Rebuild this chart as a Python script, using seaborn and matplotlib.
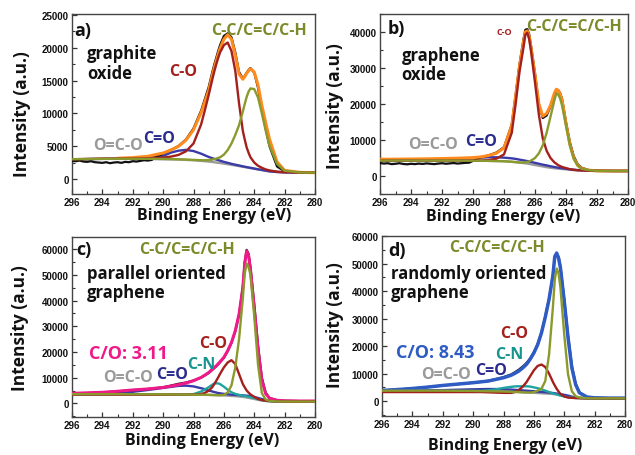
import numpy as np
import pandas as pd
import matplotlib
matplotlib.use("Agg")
import matplotlib.pyplot as plt
import seaborn as sns
from matplotlib.ticker import MultipleLocator

# ---------------- data ----------------
# common binding-energy grid (eV)
G = [296, 295, 294, 293, 292, 291, 290, 289.5, 289, 288.5, 288, 287.5, 287.25, 287,
     286.75, 286.625, 286.5, 286.375, 286.25, 286, 285.75, 285.5, 285.25, 285, 284.75,
     284.625, 284.5, 284.375, 284.25, 284, 283.75, 283.5, 283.25, 283, 282.5, 282, 281, 280]
# finer grid for the noisy raw-data part (296 -> 290.25 eV)
BX_LEFT = [296, 295.75, 295.5, 295.25, 295, 294.75, 294.5, 294.25, 294, 293.75, 293.5, 293.25,
           293, 292.75, 292.5, 292.25, 292, 291.75, 291.5, 291.25, 291, 290.75, 290.5, 290.25]
G_TAIL = G[6:]

# ---- a) graphite oxide ----
a_bg = [2950, 3000, 3050, 3050, 3050, 3050, 3000, 2980, 2950, 2900, 2850, 2750, 2700, 2650, 2580, 2540, 2500,
        2460, 2420, 2330, 2240, 2150, 2050, 1950, 1850, 1800, 1750, 1700, 1650, 1550, 1450, 1350, 1250, 1150,
        1050, 1000, 960, 940]
a_co2 = [2980, 3020, 3060, 3080, 3120, 3250, 3500, 4000, 4300, 4430, 4250, 3850, 3600, 3350, 3150, 3050, 2950,
         2860, 2780, 2600, 2450, 2300, 2170, 2050, 1920, 1860, 1800, 1745, 1690, 1580, 1470, 1370, 1260, 1160,
         1060, 1000, 960, 940]
a_co = [3000, 3050, 3080, 3100, 3100, 3150, 3250, 3400, 3650, 4200, 5400, 8300, 10500, 12800, 15300, 16450, 17500,
        18450, 19300, 20400, 20800, 19500, 16500, 11500, 7300, 6000, 4800, 4000, 3300, 2500, 2000, 1700, 1450, 1300,
        1100, 1020, 970, 950]
a_cc = [3000, 3030, 3060, 3070, 3070, 3070, 3050, 3030, 3000, 2950, 2900, 2850, 2850, 2870, 2950, 3020, 3100,
        3200, 3300, 3700, 4400, 5400, 6700, 8200, 10300, 11450, 12500, 13300, 13800, 13700, 12400, 10000, 7400, 5100,
        2300, 1250, 980, 950]
a_env = [np.nan, np.nan, np.nan, 3150, 3250, 3450, 3950, 4400, 4950, 5900, 7500, 10100, 11800, 13500, 15900, 17000,
         18000, 19000, 19900, 21300, 22000, 21300, 18900, 16000, 15200, 15600, 16100, 16500, 16800, 16300, 14300,
         11200, 8600, 6100, 2600, 1300, 1000, 950]
a_raw_left = [2750, 2700, 2800, 2650, 2600, 2700, 2550, 2500, 2450, 2550, 2400, 2500, 2550, 2450, 2600, 2550,
              2700, 2650, 2750, 2850, 2800, 2900, 3300, 3600]
a_raw_tail = [3850, 4400, 5000, 6000, 7700, 10400, 12200, 14000, 16400, 17500, 18500, 19500, 20400, 21800, 22200,
              21600, 19300, 16300, 15300, 15700, 16200, 16600, 16900, 16200, 13900, 10500, 7700, 5000, 1900, 1150,
              1000, 950]

# ---- b) graphene oxide ----
b_bg = [4300, 4300, 4300, 4300, 4300, 4300, 4250, 4250, 4200, 4150, 4100, 3950, 3850, 3750, 3600, 3530, 3450,
        3350, 3250, 3050, 2850, 2650, 2450, 2300, 2150, 2100, 2050, 2000, 1950, 1850, 1750, 1650, 1600, 1550,
        1450, 1420, 1400, 1400]
b_co2 = [4350, 4380, 4400, 4450, 4550, 4700, 4950, 5100, 5200, 5200, 5100, 4900, 4750, 4550, 4350, 4250, 4150,
         4030, 3900, 3650, 3400, 3150, 2950, 2700, 2500, 2400, 2300, 2220, 2150, 2000, 1850, 1750, 1650, 1600,
         1500, 1450, 1400, 1400]
b_co = [4300, 4300, 4300, 4300, 4300, 4300, 4300, 4300, 4400, 4800, 6000, 12000, 20000, 29000, 35500, 39200,
        39800, 38000, 34500, 26000, 17000, 10500, 7000, 5000, 3800, 3400, 3000, 2750, 2500, 2200, 1900, 1700,
        1600, 1550, 1450, 1420, 1400, 1400]
b_cc = [4300, 4300, 4300, 4300, 4300, 4300, 4250, 4250, 4200, 4150, 4100, 3950, 3850, 3750, 3700, 3800, 3900,
        4050, 4300, 5000, 6300, 8500, 12000, 16500, 21000, 23000, 22600, 21500, 19500, 14000, 8500, 4800, 2900,
        2000, 1600, 1420, 1400, 1400]
b_env = [4650, 4680, 4720, 4770, 4850, 4950, 5100, 5300, 5700, 6300, 7800, 14000, 22000, 30500, 37000, 40000,
         40300, 38800, 35500, 28000, 20000, 16600, 17400, 19600, 23000, 24100, 23800, 22700, 21000, 14500, 8800,
         5000, 3000, 2100, 1600, 1420, 1400, 1400]
b_raw_left = [3600, 3450, 3550, 3300, 3400, 3550, 3350, 3250, 3400, 3300, 3450, 3350, 3500, 3400, 3300, 3450,
              3550, 3400, 3500, 3600, 3450, 3550, 3650, 3700]
b_raw_tail = [4200, 5200, 5700, 6500, 8000, 14300, 22500, 31000, 37800, 40600, 40800, 39400, 36000, 28500, 20000,
              16100, 16800, 19300, 22700, 23600, 23800, 23000, 21300, 15000, 9400, 5500, 3300, 2300, 1600, 1420,
              1400, 1380]

# ---- c) parallel oriented graphene ----
c_bg = [3600, 3600, 3600, 3600, 3550, 3550, 3500, 3480, 3450, 3420, 3400, 3350, 3320, 3300, 3250, 3230, 3200,
        3180, 3150, 3100, 3000, 2900, 2800, 2700, 2500, 2400, 2300, 2150, 2000, 1700, 1400, 1100, 950, 850,
        750, 720, 700, 700]
c_co2 = [3700, 3800, 3900, 4100, 4500, 5200, 6000, 6400, 6800, 6900, 6600, 5900, 5500, 5000, 4600, 4400, 4200,
         4050, 3900, 3700, 3550, 3400, 3300, 3200, 3100, 3050, 3000, 2900, 2800, 2500, 2100, 1700, 1300, 1100,
         850, 750, 700, 700]
c_co = [3400, 3400, 3400, 3400, 3400, 3400, 3400, 3400, 3400, 3400, 3450, 3600, 4100, 4900, 6400, 7600, 8800,
        10100, 11500, 14000, 15900, 16800, 15300, 11400, 7500, 6200, 5000, 4200, 3500, 2500, 1700, 1300, 1050,
        900, 750, 720, 700, 700]
c_cn = [3500, 3500, 3500, 3500, 3500, 3450, 3450, 3450, 3450, 3450, 3600, 4600, 5400, 6300, 7300, 7700, 7800,
        7750, 7500, 6500, 5300, 4300, 3700, 3300, 3000, 2850, 2700, 2550, 2400, 2100, 1700, 1300, 1000, 850,
        750, 720, 700, 700]
c_cc = [3600, 3600, 3600, 3600, 3550, 3550, 3500, 3480, 3450, 3420, 3400, 3350, 3320, 3300, 3250, 3230, 3200,
        3180, 3150, 3300, 4200, 7000, 14000, 25000, 41000, 50500, 54400, 53000, 50000, 34000, 15000, 4000, 1500,
        1000, 750, 720, 700, 700]
c_env = [3900, 4100, 4300, 4700, 5200, 5600, 6200, 6700, 7250, 7900, 8800, 10100, 11000, 12000, 13300, 13950,
         14600, 15400, 16200, 17900, 20500, 23700, 28200, 34700, 45100, 54500, 59300, 57500, 52000, 37000, 21000,
         9000, 3800, 2000, 1200, 1000, 900, 900]
c_raw = [3800, 4000, 4250, 4650, 5150, 5600, 6250, 6900, 7600, 8100, 8900, 10000, 10900, 11800, 13100, 13750,
         14400, 15200, 16000, 17700, 20300, 23500, 28000, 34500, 45300, 55000, 59700, 58200, 53000, 38500, 22500,
         10000, 4200, 2100, 1200, 1000, 900, 900]

# ---- d) randomly oriented graphene ----
d_bg = [3800, 3800, 3800, 3800, 3800, 3750, 3700, 3650, 3600, 3550, 3500, 3400, 3350, 3300, 3200, 3180, 3150,
        3130, 3100, 3050, 2950, 2850, 2800, 2700, 2600, 2550, 2500, 2400, 2300, 2000, 1750, 1500, 1350, 1200,
        1050, 1000, 1000, 1000]
d_co2 = [3700, 3750, 3800, 3900, 4000, 4150, 4300, 4350, 4400, 4400, 4300, 4200, 4100, 4000, 3900, 3850, 3800,
         3750, 3700, 3600, 3450, 3350, 3250, 3100, 2950, 2850, 2750, 2650, 2550, 2300, 2000, 1600, 1400, 1200,
         1050, 1000, 1000, 1000]
d_co = [3300, 3300, 3300, 3300, 3300, 3300, 3300, 3300, 3200, 3100, 3000, 3000, 3300, 4000, 5200, 6000, 6800,
        7900, 9000, 11200, 12800, 13300, 12400, 10000, 7000, 5700, 4500, 3500, 2600, 1700, 1300, 1200, 1100, 1050,
        1000, 1000, 1000, 1000]
d_cn = [3700, 3700, 3700, 3700, 3700, 3700, 3700, 3700, 3900, 4300, 4800, 5200, 5350, 5400, 5400, 5400, 5400,
        5350, 5300, 5000, 4700, 4300, 3800, 3300, 2800, 2600, 2400, 2200, 2000, 1700, 1450, 1300, 1150, 1100,
        1050, 1000, 1000, 1000]
d_cc = [3800, 3800, 3800, 3800, 3800, 3750, 3700, 3650, 3600, 3550, 3500, 3400, 3350, 3300, 3200, 3180, 3150,
        3130, 3100, 3300, 3800, 4500, 7300, 17000, 33900, 44000, 48200, 46500, 41200, 24200, 9700, 3600, 1800,
        1300, 1050, 1000, 1000, 1000]
d_env = [3900, 4200, 4600, 5100, 5700, 6200, 6700, 7000, 7300, 7900, 8500, 9400, 10100, 10900, 12000, 12650,
         13300, 14200, 15200, 17500, 20500, 24800, 30500, 37000, 45500, 52500, 53800, 52000, 48400, 36300, 23000,
         12100, 6000, 3000, 1500, 1200, 1100, 1100]
d_raw = [3900, 4200, 4600, 5100, 5700, 6200, 6700, 7000, 7400, 8000, 8700, 9700, 10500, 11400, 12500, 13100,
         13800, 14600, 15500, 17800, 20800, 25000, 30800, 37300, 45600, 52300, 53500, 52400, 48800, 37000, 23800,
         12800, 6400, 3200, 1500, 1200, 1100, 1100]

# tick labels
X_TICKS = [296, 294, 292, 290, 288, 286, 284, 282, 280]
A_YTICKS = [0, 5000, 10000, 15000, 20000, 25000]
B_YTICKS = [0, 10000, 20000, 30000, 40000]
C_YTICKS = [0, 10000, 20000, 30000, 40000, 50000, 60000]
D_YTICKS = [0, 10000, 20000, 30000, 40000, 50000, 60000]

# ---------------- style ----------------
sns.set_style("white")
plt.rcParams['font.family'] = ['Open Sans', 'DejaVu Sans']

BLACK = "#111111"
ORANGE = "#ff8a1e"
DRED = "#a3201d"
OLIVE = "#8a9a2c"
OLIVE_T = "#7d8a2a"
NAVY = "#3a3aa8"
NAVY_T = "#2b2b8f"
GRAY = "#9a9a9a"
TEAL = "#1fa3a0"
TEAL_T = "#17948f"
MAGENTA = "#f0198a"
BLUE = "#2f5cc4"

fig = plt.figure(figsize=(6.35, 4.56), dpi=100)
W, H = 635.0, 456.0


def make_ax(l, r, t, b):
    return fig.add_axes([l / W, 1 - b / H, (r - l) / W, (b - t) / H])


def line(ax, x, y, color, lw, z):
    sns.lineplot(x=x, y=y, ax=ax, color=color, linewidth=lw, zorder=z,
                 estimator=None, legend=False)


def style_ax(ax, ylim, yticks, xlab_pos, ylab_pos):
    ax.set_xlim(296, 280)
    ax.set_ylim(*ylim)
    ax.set_xticks(X_TICKS)
    ax.set_xticklabels([str(v) for v in X_TICKS])
    ax.set_yticks(yticks)
    ax.set_yticklabels([str(v) for v in yticks])
    ax.xaxis.set_minor_locator(MultipleLocator(1))
    ax.yaxis.set_minor_locator(MultipleLocator(yticks[1] / 2))
    ax.tick_params(which='both', direction='in', bottom=True, left=True, top=False, right=False,
                   color='#333333')
    ax.tick_params(which='major', length=3.5, width=0.9, pad=2.5, labelsize=7)
    ax.tick_params(which='minor', length=2, width=0.8)
    for lab in ax.get_xticklabels() + ax.get_yticklabels():
        lab.set_fontweight('bold')
        lab.set_family(['Liberation Sans', 'DejaVu Sans'])
        lab.set_color('#111111')
    for s in ax.spines.values():
        s.set_color('#444444')
        s.set_linewidth(1.0)
    ax.set_xlabel("Binding Energy (eV)", fontsize=11.5, fontweight='bold', color='#111111')
    ax.set_ylabel("Intensity (a.u.)", fontsize=12.5, fontweight='bold', color='#111111')
    ax.xaxis.set_label_coords(*xlab_pos)
    ax.yaxis.set_label_coords(*ylab_pos)


def txt(ax, x, y, s, color, size, ha='center', va='center'):
    ax.text(x, y, s, color=color, fontsize=size, fontweight='bold', ha=ha, va=va, zorder=10,
            linespacing=1.1)


LW_C = 1.7   # component lines
LW_E = 2.2   # envelope
LW_D = 1.6   # raw data
FS_L = 11.5  # component labels
FS_N = 12    # sample names

# ---------- a ----------
ax = make_ax(72, 315, 15, 195)
line(ax, G, a_bg, GRAY, LW_C, 2)
line(ax, G, a_co2, NAVY, LW_C, 2)
line(ax, BX_LEFT + G_TAIL, a_raw_left + a_raw_tail, BLACK, LW_D, 3)
line(ax, G, a_env, ORANGE, LW_E, 4)
line(ax, G, a_co, DRED, LW_C, 5)
line(ax, G, a_cc, OLIVE, LW_C, 5)
style_ax(ax, (-2300, 25150), A_YTICKS, (0.585, -0.07), (-0.17, 0.447))
txt(ax, 295.85, 22700, "a)", BLACK, 13, ha='left')
txt(ax, 295.0, 20500, "graphite\noxide", BLACK, FS_N, ha='left', va='top')
txt(ax, 288.7, 16400, "C-O", DRED, FS_L)
txt(ax, 283.7, 22700, "C-C/C=C/C-H", OLIVE_T, FS_L)
txt(ax, 290.3, 6200, "C=O", NAVY_T, FS_L)
txt(ax, 293.0, 5200, "O=C-O", GRAY, FS_L)

# ---------- b ----------
ax = make_ax(380, 628, 15, 195)
line(ax, G, b_bg, GRAY, LW_C, 2)
line(ax, G, b_co2, NAVY, LW_C, 2)
line(ax, BX_LEFT + G_TAIL, b_raw_left + b_raw_tail, BLACK, LW_D, 3)
line(ax, G, b_env, ORANGE, LW_E, 4)
line(ax, G, b_co, DRED, LW_C, 5)
line(ax, G, b_cc, OLIVE, LW_C, 5)
style_ax(ax, (-5000, 45000), B_YTICKS, (0.498, -0.08), (-0.145, 0.494))
txt(ax, 295.5, 41000, "b)", BLACK, 13, ha='left')
txt(ax, 294.6, 36200, "graphene\noxide", BLACK, FS_N, ha='left', va='top')
txt(ax, 288.0, 40000, "C-O", DRED, 6.5)
txt(ax, 283.5, 41700, "C-C/C=C/C-H", OLIVE_T, FS_L)
txt(ax, 289.5, 9850, "C=O", NAVY_T, FS_L)
txt(ax, 292.6, 8800, "O=C-O", GRAY, FS_L)

# ---------- c ----------
ax = make_ax(72, 315, 238, 418)
line(ax, G, c_bg, GRAY, LW_C, 2)
line(ax, G, c_co2, NAVY, LW_C, 2)
line(ax, G, c_cn, TEAL, LW_C, 2)
line(ax, G, c_raw, BLACK, LW_D, 3)
line(ax, G, c_env, MAGENTA, LW_E, 4)
line(ax, G, c_co, DRED, LW_C, 5)
line(ax, G, c_cc, OLIVE, LW_C, 5)
style_ax(ax, (-5300, 64700), C_YTICKS, (0.534, -0.083), (-0.178, 0.5))
txt(ax, 295.7, 60000, "c)", BLACK, 13, ha='left')
txt(ax, 295.0, 54300, "parallel oriented\ngraphene", BLACK, FS_N, ha='left', va='top')
txt(ax, 288.4, 60000, "C-C/C=C/C-H", OLIVE_T, FS_L)
txt(ax, 286.7, 23600, "C-O", DRED, FS_L)
txt(ax, 292.3, 19700, "C/O: 3.11", MAGENTA, 13)
txt(ax, 287.5, 15300, "C-N", TEAL_T, FS_L)
txt(ax, 289.4, 11400, "C=O", NAVY_T, FS_L)
txt(ax, 292.3, 10400, "O=C-O", GRAY, FS_L)

# ---------- d ----------
ax = make_ax(382, 625, 237, 417)
line(ax, G, d_bg, GRAY, LW_C, 2)
line(ax, G, d_co2, NAVY, LW_C, 2)
line(ax, G, d_cn, TEAL, LW_C, 2)
line(ax, G, d_raw, BLACK, LW_D, 3)
line(ax, G, d_env, BLUE, LW_E + 0.3, 4)
line(ax, G, d_co, DRED, LW_C, 5)
line(ax, G, d_cc, OLIVE, LW_C, 5)
style_ax(ax, (-5400, 60000), D_YTICKS, (0.506, -0.117), (-0.155, 0.511))
txt(ax, 295.6, 55000, "d)", BLACK, 13, ha='left')
txt(ax, 295.4, 50000, "randomly oriented\ngraphene", BLACK, FS_N, ha='left', va='top')
txt(ax, 288.4, 55900, "C-C/C=C/C-H", OLIVE_T, FS_L)
txt(ax, 287.3, 24800, "C-O", DRED, FS_L)
txt(ax, 292.5, 17800, "C/O: 8.43", BLUE, 13)
txt(ax, 287.6, 17200, "C-N", TEAL_T, FS_L)
txt(ax, 288.8, 11300, "C=O", NAVY_T, FS_L)
txt(ax, 291.8, 10000, "O=C-O", GRAY, FS_L)

fig.savefig("out.png", dpi=100)
